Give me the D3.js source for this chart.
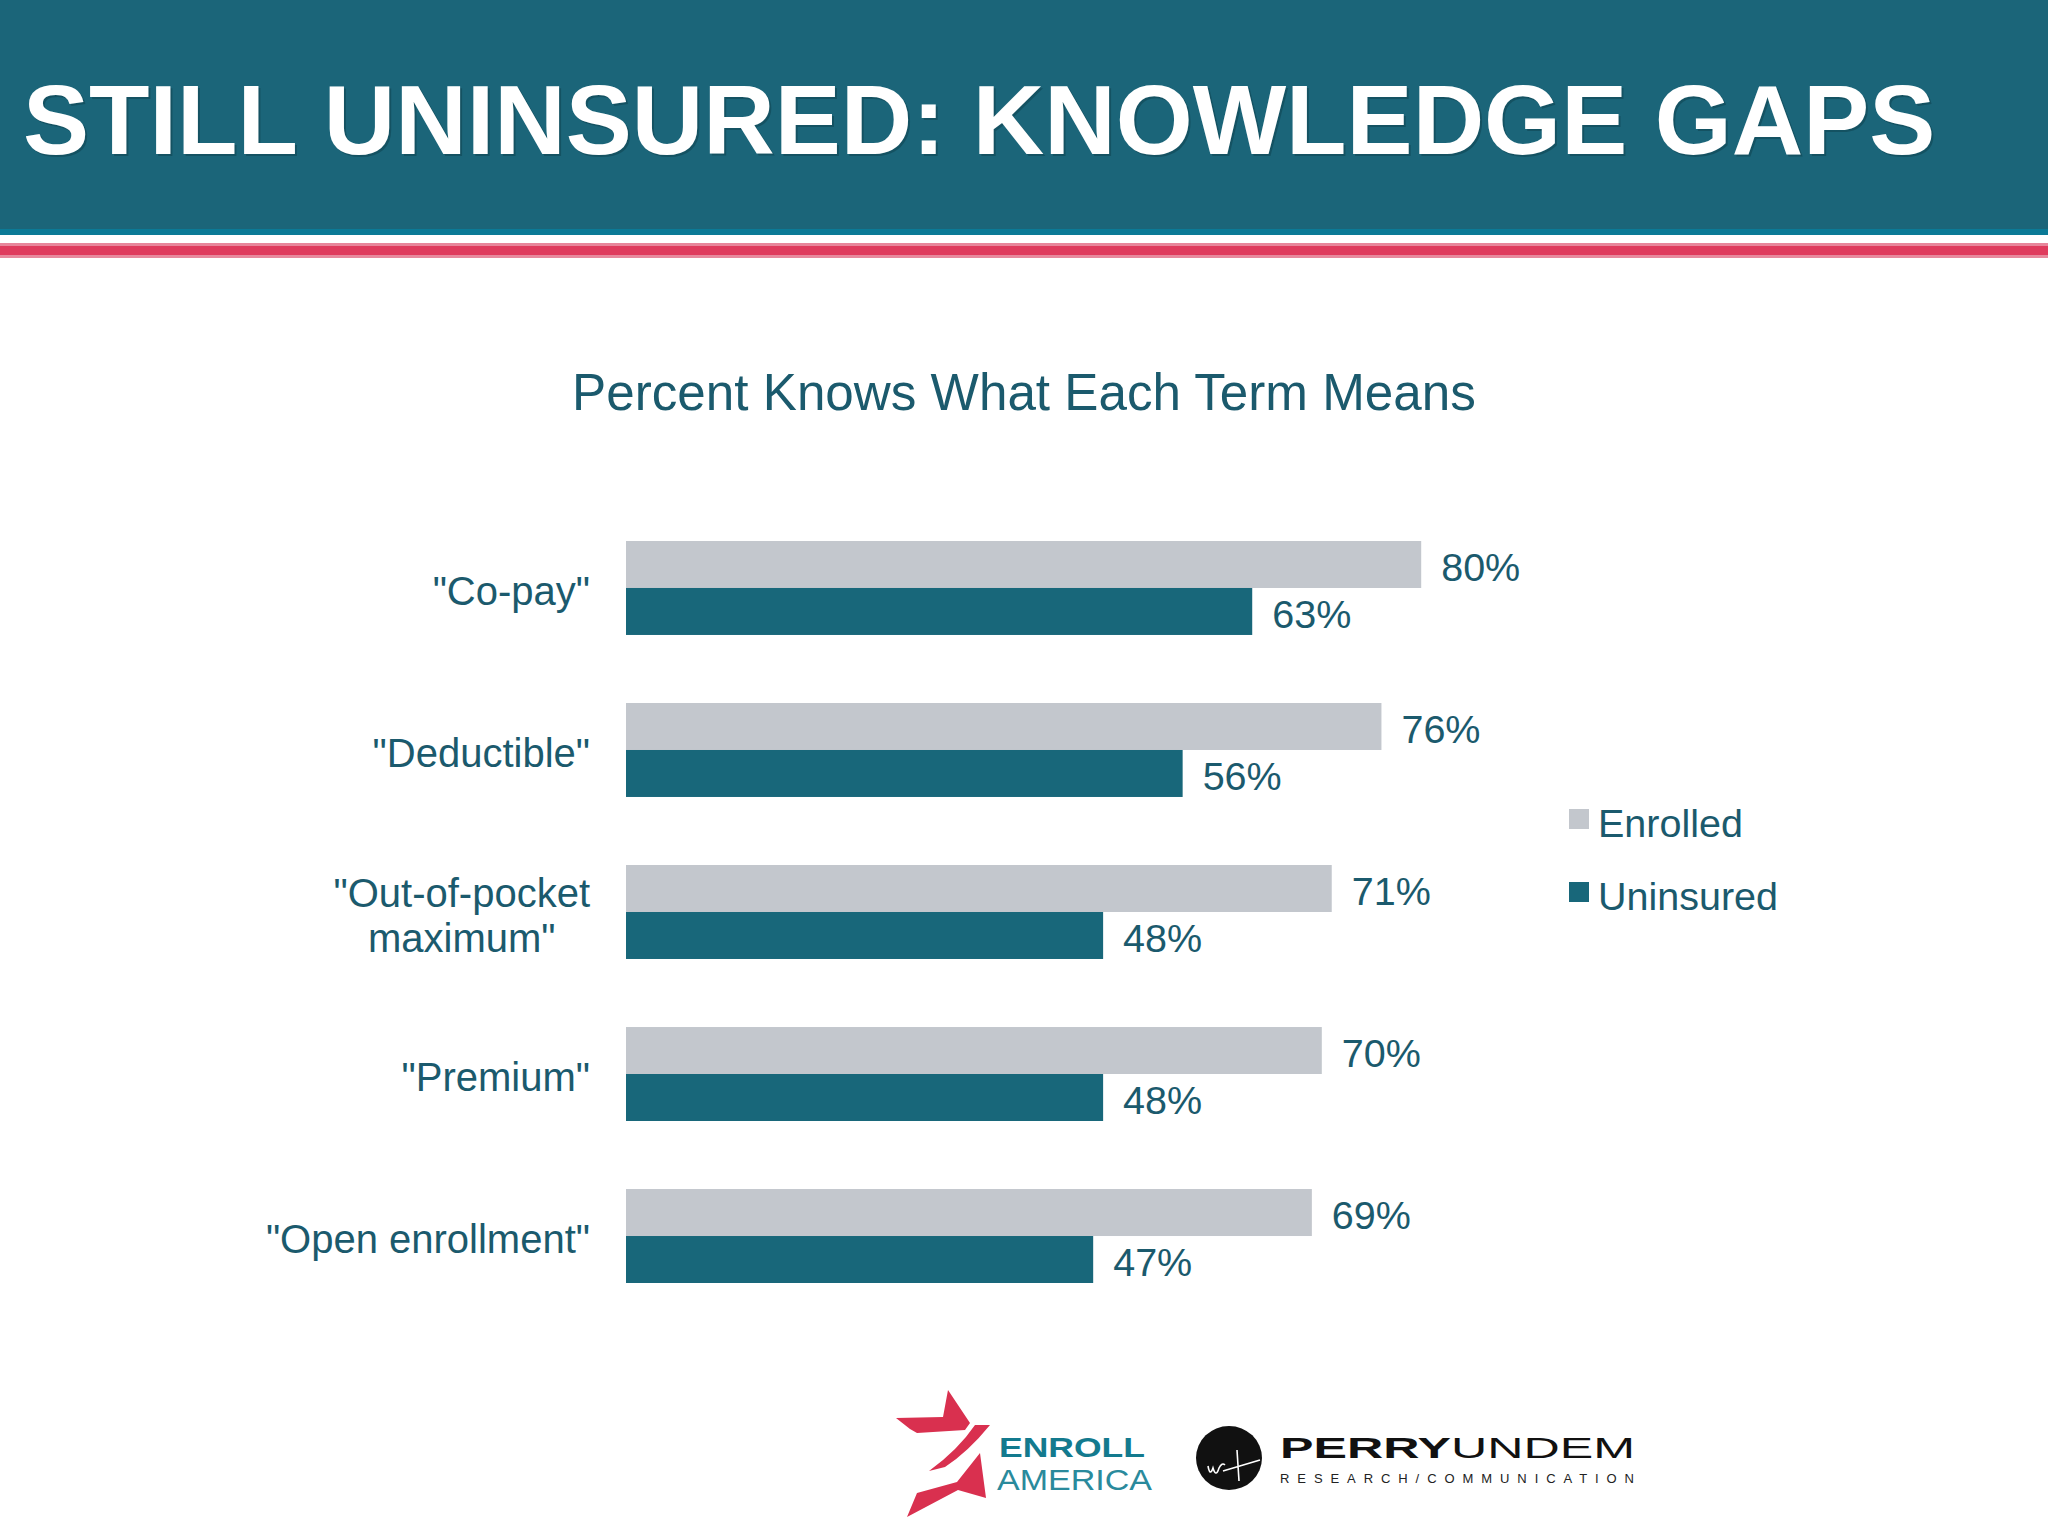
<!DOCTYPE html>
<html>
<head>
<meta charset="utf-8">
<script src="https://cdn.jsdelivr.net/npm/d3@7"></script>
<style>
html,body{margin:0;padding:0;background:#fff;}
svg{display:block;}
text{font-family:"Liberation Sans",Arial,sans-serif;}
</style>
</head>
<body>
<script>
const categories = ['"Co-pay"', '"Deductible"', '"Out-of-pocket\nmaximum"', '"Premium"', '"Open enrollment"'];
const seriesNames = ["Enrolled", "Uninsured"];
const enrolled = [80, 76, 71, 70, 69];
const uninsured = [63, 56, 48, 48, 47];
const pageTitle = "STILL UNINSURED: KNOWLEDGE GAPS";
const chartTitle = "Percent Knows What Each Term Means";

const W = 2048, H = 1536;
const colors = {Enrolled: "#c3c7cd", Uninsured: "#18677a"};
const textColor = "#1b5a6d";

const svg = d3.select("body").append("svg").attr("width", W).attr("height", H);
svg.append("rect").attr("width", W).attr("height", H).attr("fill", "#fff");

// Header
svg.append("rect").attr("x", 0).attr("y", 0).attr("width", W).attr("height", 229).attr("fill", "#1b6579");
svg.append("rect").attr("x", 0).attr("y", 229).attr("width", W).attr("height", 6).attr("fill", "#0b7a96");
svg.append("rect").attr("x", 0).attr("y", 243).attr("width", W).attr("height", 15).attr("fill", "#df3b5d");
svg.append("rect").attr("x", 0).attr("y", 243).attr("width", W).attr("height", 3).attr("fill", "#e8869b");
svg.append("rect").attr("x", 0).attr("y", 255).attr("width", W).attr("height", 3).attr("fill", "#e7899d");

svg.append("text").attr("x", 25).attr("y", 156).text(pageTitle)
  .attr("font-size", 99).attr("font-weight", "bold").attr("fill", "#0d3c48").attr("opacity", 0.45);
svg.append("text").attr("x", 23).attr("y", 154).text(pageTitle)
  .attr("font-size", 99).attr("font-weight", "bold").attr("fill", "#ffffff");

// Chart title
svg.append("text").attr("x", 1024).attr("y", 410).attr("text-anchor", "middle")
  .attr("font-size", 51.2).attr("fill", textColor).text(chartTitle);

// Scales
const data = categories.map((c, i) => ({cat: c, Enrolled: enrolled[i], Uninsured: uninsured[i]}));
const y = d3.scaleBand().domain(categories).range([541, 1283]).paddingInner(0.42).paddingOuter(0);
const ySub = d3.scaleBand().domain(seriesNames).range([0, y.bandwidth()]).padding(0);
const x = d3.scaleLinear().domain([0, 100]).range([626, 1620]);

const groups = svg.append("g").selectAll("g").data(data).join("g")
  .attr("transform", d => `translate(0,${y(d.cat)})`);

groups.selectAll("rect").data(d => seriesNames.map(s => ({s, v: d[s]}))).join("rect")
  .attr("x", x(0)).attr("y", d => ySub(d.s))
  .attr("width", d => x(d.v) - x(0)).attr("height", ySub.bandwidth())
  .attr("fill", d => colors[d.s]);

groups.selectAll("text.val").data(d => seriesNames.map(s => ({s, v: d[s]}))).join("text")
  .attr("class", "val")
  .attr("x", d => x(d.v) + 20).attr("y", d => ySub(d.s) + ySub.bandwidth() / 2 + 2)
  .attr("dy", "0.36em").attr("font-size", 39.5).attr("fill", textColor)
  .text(d => d.v + "%");

// Category labels (right-aligned block, lines centered with each other)
const labelRight = 590;
groups.each(function(d) {
  const g = d3.select(this);
  const lines = d.cat.split("\n");
  const lh = 45;
  const cy = y.bandwidth() / 2 + 3;
  const t = g.append("text").attr("font-size", 40).attr("fill", textColor).attr("text-anchor", "middle");
  lines.forEach((ln, i) => {
    t.append("tspan").attr("x", 0).attr("y", cy + (i - (lines.length - 1) / 2) * lh).attr("dy", "0.36em").text(ln);
  });
  let maxW = 0;
  t.selectAll("tspan").each(function() { maxW = Math.max(maxW, this.getComputedTextLength()); });
  t.selectAll("tspan").attr("x", labelRight - maxW / 2);
});

// Legend
const legend = svg.append("g").selectAll("g").data(seriesNames).join("g")
  .attr("transform", (d, i) => `translate(1569,${809 + i * 73})`);
legend.append("rect").attr("width", 20).attr("height", 20).attr("fill", d => colors[d]);
legend.append("text").attr("x", 29).attr("y", 14).attr("dy", "0.36em")
  .attr("font-size", 39.5).attr("fill", textColor).text(d => d);

// Logos
const logo = svg.append("g");
const red = "#d9304f";
logo.append("path").attr("fill", red).attr("d",
  "M896,1418 L943,1417 L948,1390 L970,1423 L965,1430 L917,1433 L910,1429 Z" +
  "M975,1425 L990,1425 Q968,1452 945,1467 L929,1471 Q958,1450 975,1425 Z" +
  "M980,1453 L986,1498 L958,1490 L907,1517 L917,1493 L957,1482 Z");
logo.append("text").attr("x", 999).attr("y", 1457).attr("font-size", 28.5).attr("font-weight", "bold")
  .attr("fill", "#137a8e").attr("textLength", 146).attr("lengthAdjust", "spacingAndGlyphs").text("ENROLL");
logo.append("text").attr("x", 997).attr("y", 1490).attr("font-size", 29)
  .attr("fill", "#2a8a9c").attr("textLength", 155).attr("lengthAdjust", "spacingAndGlyphs").text("AMERICA");

logo.append("ellipse").attr("cx", 1229).attr("cy", 1458).attr("rx", 33).attr("ry", 32).attr("fill", "#111");
logo.append("path").attr("fill", "none").attr("stroke", "#fff").attr("stroke-width", 1.6)
  .attr("d", "M1208,1466 q2,11 5,2 q3,10 6,0 q3,-6 6,-3 M1237,1450 L1239,1481 M1223,1471 L1260,1460");
logo.append("text").attr("x", 1280).attr("y", 1458).attr("font-size", 30).attr("fill", "#111")
  .attr("textLength", 355).attr("lengthAdjust", "spacingAndGlyphs")
  .call(t => {
    t.append("tspan").attr("font-weight", "bold").text("PERRY");
    t.append("tspan").attr("font-weight", "normal").text("UNDEM");
  });
logo.append("text").attr("x", 1280).attr("y", 1483).attr("font-size", 13).attr("fill", "#222")
  .attr("textLength", 354).attr("lengthAdjust", "spacing").text("RESEARCH/COMMUNICATION");
</script>
</body>
</html>
